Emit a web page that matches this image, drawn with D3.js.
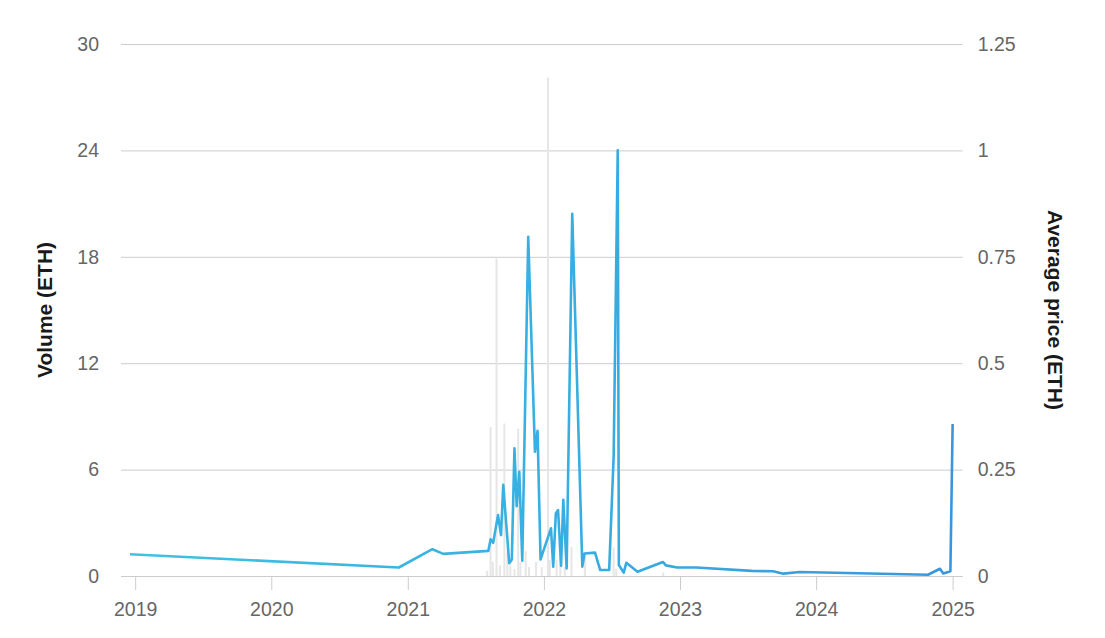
<!DOCTYPE html>
<html>
<head>
<meta charset="utf-8">
<script src="https://cdn.jsdelivr.net/npm/d3@7"></script>
<style>
  html, body { margin: 0; padding: 0; background: #fff; }
  svg { display: block; font-family: "Liberation Sans", Arial, sans-serif; }
</style>
</head>
<body>
<svg id="chart" width="1105" height="638"></svg>
<script>
// ---- data ----
const priceDates = [
  "2018-12-18","2020-12-08","2021-03-08","2021-04-06","2021-08-05","2021-08-11","2021-08-18",
  "2021-08-31","2021-09-08","2021-09-14","2021-09-30","2021-10-07","2021-10-14","2021-10-20",
  "2021-10-27","2021-11-04","2021-11-20","2021-12-08","2021-12-15","2021-12-23","2022-01-20",
  "2022-01-26","2022-02-02","2022-02-08","2022-02-16","2022-02-22","2022-03-03","2022-03-18",
  "2022-04-14","2022-04-20","2022-05-18","2022-06-01","2022-06-25","2022-07-07","2022-07-18",
  "2022-07-21","2022-08-03","2022-08-10","2022-09-09","2022-11-16","2022-11-24","2022-12-24",
  "2023-02-14","2023-07-12","2023-09-08","2023-10-05","2023-11-18","2024-10-27","2024-11-28",
  "2024-12-07","2024-12-26","2025-01-01"
];
const priceValues = [
  0.051,0.020,0.063,0.052,0.059,0.086,0.078,
  0.143,0.096,0.214,0.030,0.039,0.300,0.164,
  0.245,0.036,0.797,0.292,0.341,0.039,0.112,
  0.022,0.147,0.155,0.024,0.179,0.018,0.851,
  0.022,0.053,0.055,0.014,0.014,0.280,1.000,
  0.026,0.008,0.031,0.010,0.033,0.025,0.020,
  0.020,0.012,0.011,0.0055,0.0094,0.003,0.017,
  0.006,0.011,0.357
];
const volumeDates = [
  "2021-08-02","2021-08-11","2021-08-17","2021-08-27","2021-09-05","2021-09-17","2021-09-25",
  "2021-10-03","2021-10-14","2021-10-24","2021-10-30","2021-11-13","2021-11-22","2021-12-11",
  "2021-12-26","2022-01-12","2022-01-17","2022-02-04","2022-02-14","2022-02-26","2022-03-16",
  "2022-04-21","2022-07-07","2022-07-14","2022-11-17"
];
const volumeValues = [
  0.3,8.4,0.8,17.9,0.6,8.6,1.4,
  0.6,0.4,8.3,0.8,1.4,0.5,0.8,
  0.5,28.1,0.9,0.9,1.4,0.5,1.65,
  1.1,1.6,0.4,0.2
];
const volumeTicks = [0, 6, 12, 18, 24, 30];
const priceTicks = [0, 0.25, 0.5, 0.75, 1, 1.25];
const yearTicks = [2019, 2020, 2021, 2022, 2023, 2024, 2025];
const xDomain = ["2018-11-24", "2025-01-28"];

// ---- layout ----
const svg = d3.select("#chart");
const pL = 121, pR = 962.7, pT = 44, pB = 576;
const parse = d3.utcParse("%Y-%m-%d");

const x = d3.scaleUtc().domain(xDomain.map(parse)).range([pL, pR]);
const yVol = d3.scaleLinear().domain([0, 30]).range([pB, pT]);
const yPrice = d3.scaleLinear().domain([0, 1.25]).range([pB, pT]);

// gradient for line
const defs = svg.append("defs");
const grad = defs.append("linearGradient")
  .attr("id", "lineGrad").attr("gradientUnits", "userSpaceOnUse")
  .attr("x1", pL).attr("x2", pR).attr("y1", 0).attr("y2", 0);
grad.append("stop").attr("offset", "0%").attr("stop-color", "#3ec3e0");
grad.append("stop").attr("offset", "55%").attr("stop-color", "#37ade2");
grad.append("stop").attr("offset", "100%").attr("stop-color", "#3a95dc");

// grid lines (left axis)
const gridAxis = d3.axisLeft(yVol).tickValues(volumeTicks).tickSize(-(pR - pL)).tickFormat("");
svg.append("g").attr("transform", `translate(${pL},0)`).call(gridAxis)
  .call(g => g.select(".domain").remove())
  .call(g => g.selectAll("line").attr("stroke", "#cccccc").attr("stroke-width", 1));

const tickFont = "19.5px";

// left tick labels
const leftAxis = d3.axisLeft(yVol).tickValues(volumeTicks).tickSize(0).tickPadding(22).tickFormat(d => String(d));
svg.append("g").attr("transform", `translate(${pL},0)`).call(leftAxis)
  .call(g => g.select(".domain").remove())
  .call(g => g.selectAll("text").attr("fill", "#666").style("font-size", tickFont).attr("font-family", null));

// right tick labels
const rightAxis = d3.axisRight(yPrice).tickValues(priceTicks).tickSize(0).tickPadding(15).tickFormat(d => String(d));
svg.append("g").attr("transform", `translate(${pR},0)`).call(rightAxis)
  .call(g => g.select(".domain").remove())
  .call(g => g.selectAll("text").attr("fill", "#666").style("font-size", tickFont).attr("font-family", null));

// volume bars
const bars = volumeDates.map((d, i) => ({ date: parse(d), v: volumeValues[i] }));
svg.append("g").selectAll("rect").data(bars).join("rect")
  .attr("x", d => x(d.date) - 1)
  .attr("width", 2)
  .attr("y", d => yVol(d.v))
  .attr("height", d => yVol(0) - yVol(d.v))
  .attr("fill", "#e6e6e6");

// x axis
const xAxis = d3.axisBottom(x)
  .tickValues(yearTicks.map(y => new Date(Date.UTC(y, 0, 1))))
  .tickFormat(d3.utcFormat("%Y"))
  .tickSize(14).tickPadding(12);
svg.append("g").attr("transform", `translate(0,${pB})`).call(xAxis)
  .call(g => g.select(".domain").attr("stroke", "#cccccc").attr("d", `M${pL},0.5H${pR}`))
  .call(g => g.selectAll(".tick line").attr("stroke", "#cccccc"))
  .call(g => g.selectAll("text").attr("fill", "#666").style("font-size", tickFont).attr("font-family", null));

// price line
const pts = priceDates.map((d, i) => ({ date: parse(d), p: priceValues[i] }));
const line = d3.line().x(d => x(d.date)).y(d => yPrice(d.p));
svg.append("path").datum(pts)
  .attr("d", line)
  .attr("fill", "none")
  .attr("stroke", "url(#lineGrad)")
  .attr("stroke-width", 2.6)
  .attr("stroke-linejoin", "round");

// axis titles
svg.append("text")
  .attr("transform", `translate(52,${(pT + pB) / 2 - 0}) rotate(-90)`)
  .attr("text-anchor", "middle")
  .attr("fill", "#1a1a1a")
  .style("font-size", "21px").style("font-weight", "bold")
  .text("Volume (ETH)");
svg.append("text")
  .attr("transform", `translate(1048,${(pT + pB) / 2 - 0}) rotate(90)`)
  .attr("text-anchor", "middle")
  .attr("fill", "#1a1a1a")
  .style("font-size", "21px").style("font-weight", "bold")
  .text("Average price (ETH)");
</script>
</body>
</html>
